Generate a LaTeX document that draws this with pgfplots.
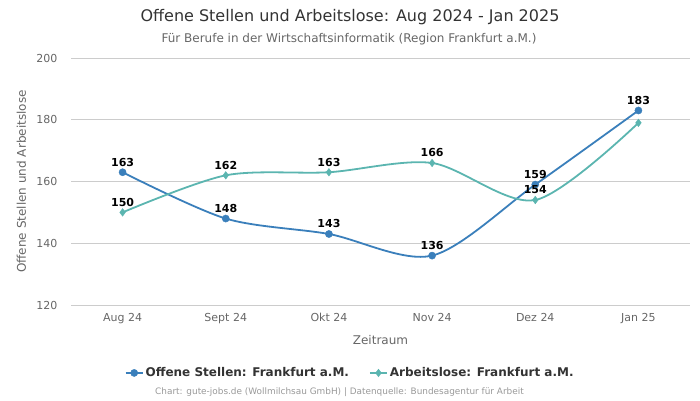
\documentclass[border=0pt]{standalone}
\usepackage{pgfplots}
\pgfplotsset{compat=1.18}
\usepackage{fontspec}
\setmainfont{DejaVu Sans}
\definecolor{cblue}{HTML}{3A7FBB}
\definecolor{cteal}{HTML}{5BB5B0}
\definecolor{tgray}{HTML}{666666}
\definecolor{dgray}{HTML}{333333}
\definecolor{fgray}{HTML}{999999}
\definecolor{ggray}{HTML}{CCCCCC}
\begin{document}
\begin{tikzpicture}[x=1pt,y=1pt]
\begin{axis}[at={(71pt,95pt)}, anchor=south west, scale only axis,
  width=619pt, height=247pt,
  xmin=-0.5, xmax=5.5, ymin=120, ymax=200,
  ytick={120,140,160,180,200},
  xtick={0,1,2,3,4,5},
  xticklabels={Aug 24,Sept 24,Okt 24,Nov 24,Dez 24,Jan 25},
  axis line style={draw=none},
  major tick length=0pt,
  ymajorgrids, grid style={ggray, line width=1pt},
  /pgf/number format/assume math mode=true,
  tick label style={font=\fontsize{11}{13}\selectfont, text=tgray},
  xticklabel style={yshift=-5pt},
  yticklabel style={xshift=-10pt},
  xlabel={Zeitraum},
  xlabel style={at={(axis description cs:0.5,0)}, anchor=center, yshift=-35pt, font=\fontsize{12}{14}\selectfont, text=tgray},
  ylabel={Offene Stellen und Arbeitslose},
  ylabel style={at={(axis description cs:-0.080,0.5)}, anchor=center, font=\fontsize{12}{14}\selectfont, text=tgray},
  nodes near coords,
  point meta=explicit symbolic,
  every node near coord/.append style={font=\bfseries\fontsize{11}{13}\selectfont, text=black, anchor=south, yshift=2.5pt},
  legend columns=2,
  legend style={at={(0.451,-0.275)}, anchor=center, draw=none, fill=none,
    font=\bfseries\fontsize{12}{14}\selectfont, text=dgray,
    /tikz/every even column/.append style={column sep=18pt}},
  legend cell align=left,
]
\addplot[cblue, line width=1.8pt, smooth, tension=0.5, mark=*, mark size=3.6pt, mark options={solid, fill=cblue, draw=cblue, line width=0.4pt}]
  coordinates {(0,163) [163] (1,148) [148] (2,143) [143] (3,136) [136] (4,159) [159] (5,183) [183]};
\addlegendentry{Offene Stellen: Frankfurt a.M.}
\addplot[cteal, line width=1.8pt, smooth, tension=0.5, mark=diamond*, mark size=3.8pt, mark options={solid, fill=cteal, draw=cteal, line width=0.4pt}]
  coordinates {(0,150) [150] (1,162) [162] (2,163) [163] (3,166) [166] (4,154) [154] (5,179) []};
\addlegendentry{Arbeitslose: Frankfurt a.M.}
\end{axis}
\node[font=\fontsize{16}{18}\selectfont, text=dgray] at (350,383) {Offene Stellen und Arbeitslose: Aug 2024 - Jan 2025};
\node[font=\fontsize{12}{14}\selectfont, text=tgray] at (349,361) {Für Berufe in der Wirtschaftsinformatik (Region Frankfurt a.M.)};
\node[font=\fontsize{8.9}{10}\selectfont, text=fgray] at (339.5,8) {Chart: gute-jobs.de (Wollmilchsau GmbH) | Datenquelle: Bundesagentur für Arbeit};
\pgfresetboundingbox
\path (0,0) rectangle (700,400);
\end{tikzpicture}
\end{document}
